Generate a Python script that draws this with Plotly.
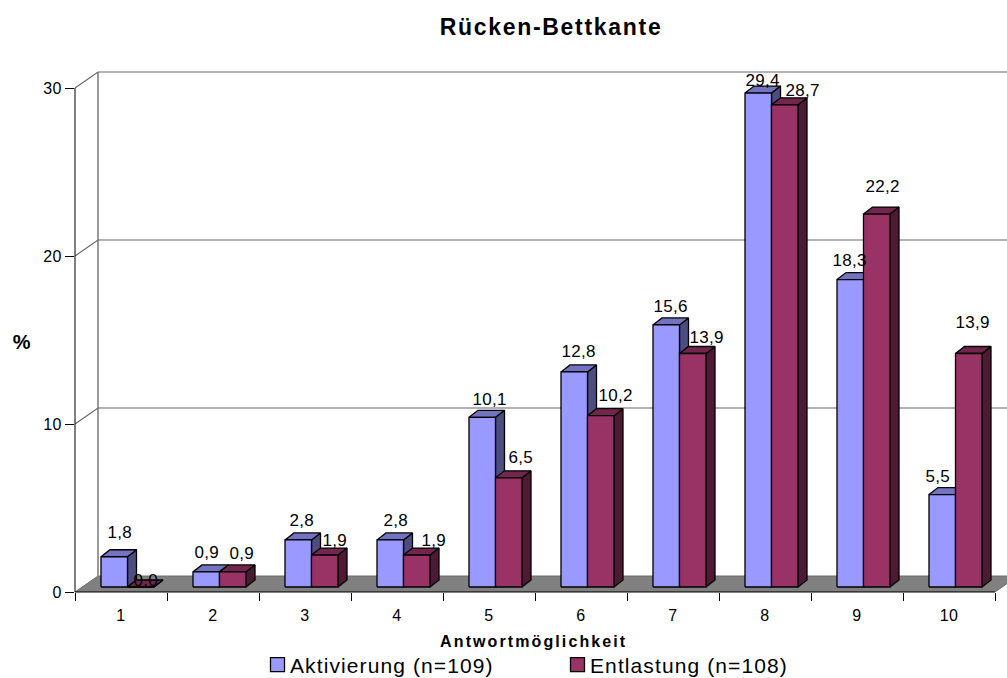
import plotly.graph_objects as go

categories = list(range(1, 11))
aktivierung = [1.8, 0.9, 2.8, 2.8, 10.1, 12.8, 15.6, 29.4, 18.3, 5.5]
entlastung = [0.0, 0.9, 1.9, 1.9, 6.5, 10.2, 13.9, 28.7, 22.2, 13.9]
y_ticks = [0, 10, 20, 30]
series_names = ["Aktivierung (n=109)", "Entlastung (n=108)"]

# label nudges in pixels, relative to the bar's front top centre
akt_nudge_x = [6, 1, 4, 6, 7, 4, 4, 4, -1, -4]
akt_nudge_y = [24, 19, 19, 19, 18, 20, 18, 13, 19, 18]
ent_nudge_x = [5, 9, 10, 17, 12, 15, 14, 18, 6, 4]
ent_nudge_y = [7, 18, 15, 15, 20, 20, 16, 14, 28, 31]

# geometry
W, H = 1007, 678
LEFT, BOTTOM_PX, TOP_PX = 75, 592, 50
PX_X = 92.0      # pixels per category
PX_Y = 16.8      # pixels per percent
ux = 1 / PX_X
uy = 1 / PX_Y
XMIN = 0.5
XMAX = XMIN + (W - LEFT) * ux
YMAX = (BOTTOM_PX - TOP_PX) * uy

WALL_DX, WALL_DY = 23 * ux, 16 * uy
BAR_W = 26.5 * ux
BAR_START = (101 - LEFT) * ux
BAR_BASE = 5 * uy
BAR_DX, BAR_DY = 9 * ux, 7 * uy

BLUE = ("#9999FF", "#7373BF", "#4D4D80")
RED = ("#993366", "#73264D", "#4D1A33")
GREY = "#808080"

fig = go.Figure()


def poly(xs, ys, fill, line="#000000", width=1.3):
    fig.add_trace(go.Scatter(x=xs + xs[:1], y=ys + ys[:1], mode="lines", fill="toself",
                             fillcolor=fill, line=dict(color=line, width=width),
                             hoverinfo="skip", showlegend=False))


def seg(xs, ys, color, width=1.0):
    fig.add_trace(go.Scatter(x=xs, y=ys, mode="lines", line=dict(color=color, width=width),
                             hoverinfo="skip", showlegend=False))


# floor
x0, x1 = XMIN, XMIN + len(categories)
poly([x0, x1, x1 + WALL_DX, x0 + WALL_DX], [0, 0, WALL_DY, WALL_DY], GREY, line="#6e6e6e", width=1)

# walls and gridlines
seg([x0 + WALL_DX, x0 + WALL_DX], [WALL_DY, 30 + WALL_DY], "#909090", 1.8)
for t in y_ticks[1:]:
    seg([x0, x0 + WALL_DX, x1 + WALL_DX], [t, t + WALL_DY, t + WALL_DY], "#666666", 1.1)


def bar(left, value, colors):
    right = left + BAR_W
    top = BAR_BASE + value
    base = BAR_BASE
    poly([right, right + BAR_DX, right + BAR_DX, right],
         [base, base + BAR_DY, top + BAR_DY, top], colors[2])
    poly([left, right, right + BAR_DX, left + BAR_DX],
         [top, top, top + BAR_DY, top + BAR_DY], colors[1])
    poly([left, right, right, left], [base, base, top, top], colors[0])


for i, c in enumerate(categories):
    left = c - 0.5 + BAR_START
    bar(left, aktivierung[i], BLUE)
    bar(left + BAR_W, entlastung[i], RED)

# legend entries
for name, colors in zip(series_names, (BLUE, RED)):
    fig.add_trace(go.Scatter(x=[None], y=[None], mode="markers", name=name,
                             marker=dict(symbol="square", size=14, color=colors[0],
                                         line=dict(color="#000000", width=1.3))))

FONT = "Liberation Sans, Arial, sans-serif"
LABEL = 17
annotations = []


def labels(values, offset, nx, ny):
    for i, v in enumerate(values):
        annotations.append(dict(
            x=categories[i] - 0.5 + BAR_START + offset + BAR_W / 2, y=BAR_BASE + v,
            xref="x", yref="y", text=f"{v:.1f}".replace(".", ","), showarrow=False,
            xanchor="center", yanchor="middle", xshift=nx[i], yshift=ny[i],
            font=dict(family=FONT, size=LABEL, color="#000000")))


labels(aktivierung, 0, akt_nudge_x, akt_nudge_y)
labels(entlastung, BAR_W, ent_nudge_x, ent_nudge_y)

plot_w = W - LEFT
plot_h = BOTTOM_PX - TOP_PX
annotations.append(dict(x=(534 - LEFT) / plot_w, y=(BOTTOM_PX - 641) / plot_h, xref="paper", yref="paper",
                        text="<b>Antwortmöglichkeit</b>", showarrow=False, xanchor="center", yanchor="middle",
                        font=dict(family=FONT, size=16, color="#000000")))
annotations.append(dict(x=(22 - LEFT) / plot_w, y=(BOTTOM_PX - 342) / plot_h, xref="paper", yref="paper",
                        text="<b>%</b>", showarrow=False, xanchor="center", yanchor="middle",
                        font=dict(family=FONT, size=20, color="#000000")))

shapes = [
    dict(type="line", xref="paper", yref="y", x0=0, x1=0, y0=0, y1=30, line=dict(color="#000000", width=1)),
    dict(type="line", xref="x", yref="paper", x0=x0, x1=x1, y0=0, y1=0, line=dict(color="#000000", width=1)),
]

fig.update_layout(
    width=W, height=H, autosize=False,
    margin=dict(l=LEFT, r=0, t=TOP_PX, b=H - BOTTOM_PX, pad=0, autoexpand=False),
    paper_bgcolor="#ffffff", plot_bgcolor="#ffffff",
    font=dict(family=FONT, color="#000000"),
    title=dict(text="<b>Rücken-Bettkante</b>", x=551 / W, y=1 - 27 / H, xanchor="center", yanchor="middle",
               xref="container", font=dict(family=FONT, size=23, color="#000000")),
    xaxis=dict(range=[XMIN, XMAX], tickvals=categories, ticktext=[str(c) for c in categories],
               ticks="outside", ticklen=8, tickcolor="rgba(0,0,0,0)", showgrid=False, zeroline=False,
               showline=False, tickfont=dict(family=FONT, size=16), ticklabelstandoff=1,
               minor=dict(ticks="outside", ticklen=8, tickcolor="#000000", tickwidth=1, tick0=0.5, dtick=1,
                          showgrid=False)),
    yaxis=dict(range=[0, YMAX], tickvals=y_ticks, ticks="outside", ticklen=9, tickcolor="#000000",
               showgrid=False, zeroline=False, showline=False, tickfont=dict(family=FONT, size=16)),
    showlegend=True,
    legend=dict(orientation="h", x=(257.5 - LEFT) / plot_w, y=(BOTTOM_PX - 665) / plot_h, xanchor="left", yanchor="middle",
                entrywidth=255, entrywidthmode="pixels", font=dict(family=FONT, size=21, color="#000000"),
                bgcolor="rgba(0,0,0,0)", itemwidth=30),
    annotations=annotations, shapes=shapes,
)

post = """
document.body.style.margin = '0';
var sp = function (sel, v) { document.querySelectorAll(sel).forEach(function (e) { e.style.letterSpacing = v; }); };
sp('.gtitle', '1.7px');
sp('.annotation-text', '0.3px');
sp('.xtick text', '0.4px');
sp('.ytick text', '0.4px');
sp('.legendtext', '1.1px');
document.querySelectorAll('.annotation-text').forEach(function (e) {
  if (e.textContent === 'Antwortmöglichkeit') { e.style.letterSpacing = '2.1px'; }
});
document.querySelectorAll('.legendtext').forEach(function (e) {
  e.setAttribute('x', parseFloat(e.getAttribute('x')) - 7.5);
});
"""
fig.write_html("out.html", post_script=post, config={"displayModeBar": False})
